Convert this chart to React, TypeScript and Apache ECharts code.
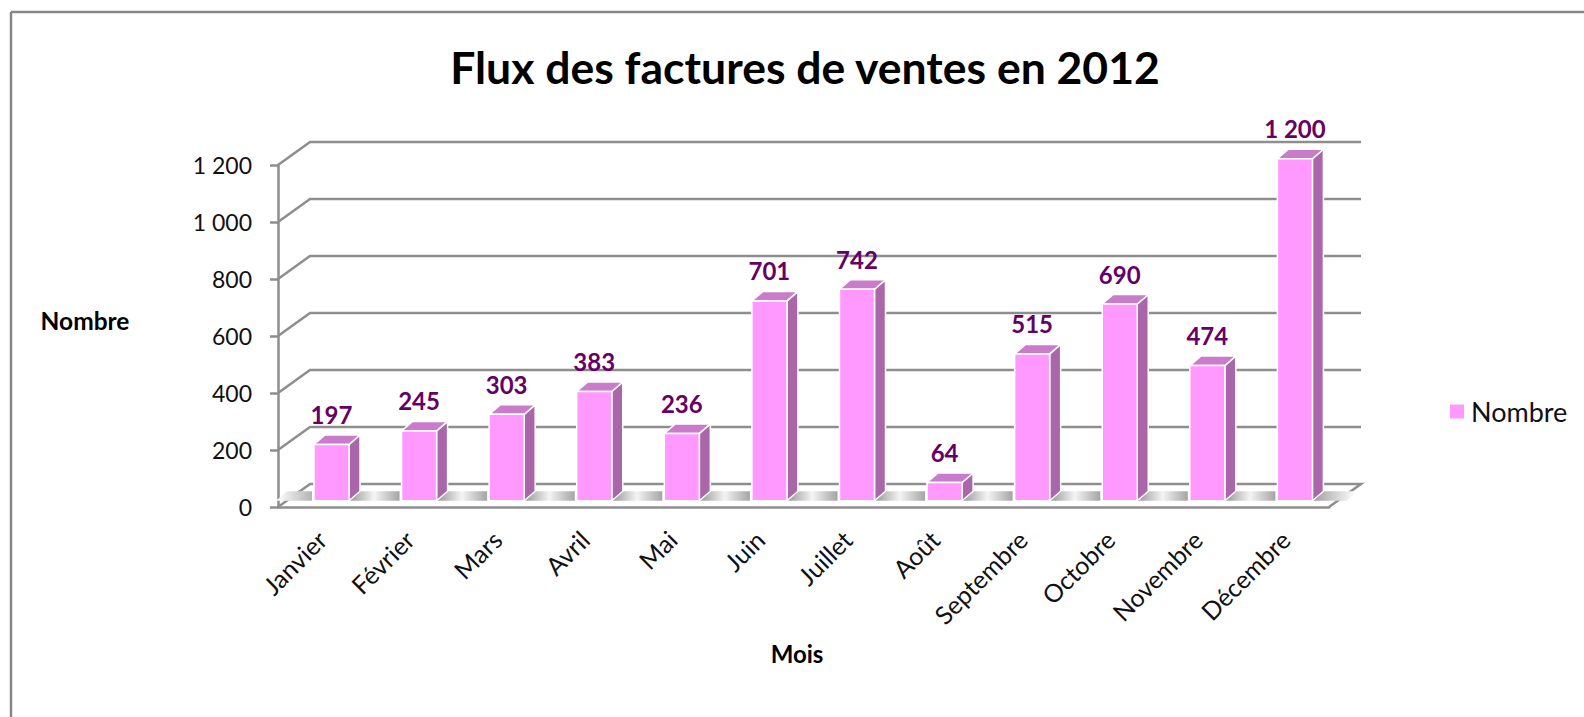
import React, { useEffect, useRef } from "react";
import * as echarts from "echarts";

const titleText = "Flux des factures de ventes en 2012";
const seriesName = "Nombre";
const yAxisTitle = "Nombre";
const xAxisTitle = "Mois";
const months = ["Janvier", "Février", "Mars", "Avril", "Mai", "Juin", "Juillet", "Août", "Septembre", "Octobre", "Novembre", "Décembre"];
const counts = [197, 245, 303, 383, 236, 701, 742, 64, 515, 690, 474, 1200];
const yTicks = [0, 200, 400, 600, 800, 1000, 1200];

const FONT = "Lato, 'Open Sans', sans-serif";
const GRID = "#8e8e8e";
const WALL_DX = 32;
const WALL_DY = -23;
const BAR_DX = 9.7;
const BAR_DY = -6.3;
const DEPTH_X = 11;
const DEPTH_Y = -9.5;

const fmt = (v: number) => (v >= 1000 ? String(v).replace(/(\d)(\d{3})$/, "$1 $2") : String(v));

const shade = (stops: [number, string][]) =>
  new echarts.graphic.LinearGradient(0, 0, 1, 0, stops.map(([offset, color]) => ({ offset, color })));

export default function App() {
  const ref = useRef<HTMLDivElement>(null);
  useEffect(() => {
    const chart = echarts.init(ref.current!, undefined, { renderer: "svg" });
    chart.setOption({
      animation: false,
      backgroundColor: "#ffffff",
      title: {
        text: titleText,
        left: 800,
        top: 39,
        textAlign: "center",
        textStyle: { fontFamily: FONT, fontSize: 44.5, fontWeight: "bold", color: "#000" },
      },
      legend: {
        data: [seriesName],
        left: 1445,
        top: 393,
        icon: "rect",
        itemWidth: 14,
        itemHeight: 14,
        itemGap: 10,
        textStyle: { fontFamily: FONT, fontSize: 27, color: "#111", padding: [0, 0, 0, 2] },
      },
      grid: { left: 278, right: 255, top: 165, bottom: 210 },
      xAxis: {
        type: "category",
        data: months,
        axisLine: { lineStyle: { color: GRID, width: 2.5 } },
        axisTick: { length: 8, lineStyle: { color: GRID, width: 2.5 } },
        axisLabel: { rotate: 45, margin: 28, interval: 0, fontFamily: FONT, fontSize: 25, color: "#111" },
      },
      yAxis: {
        type: "value",
        min: 0,
        max: 1200,
        interval: 200,
        splitLine: { show: false },
        axisLine: { show: true, lineStyle: { color: GRID, width: 2.5 } },
        axisTick: { show: true, length: 8, lineStyle: { color: GRID, width: 2.5 } },
        axisLabel: { margin: 26, fontFamily: FONT, fontSize: 23, color: "#111", formatter: (v: number) => fmt(v) },
      },
      graphic: [
        { type: "line", shape: { x1: 11, y1: 12, x2: 1584, y2: 12 }, style: { stroke: "#868686", lineWidth: 2.5 } },
        { type: "line", shape: { x1: 11, y1: 12, x2: 11, y2: 717 }, style: { stroke: "#868686", lineWidth: 2.5 } },
        { type: "text", x: 85, y: 320, style: { text: yAxisTitle, fontFamily: FONT, fontSize: 24.5, fontWeight: "bold", fill: "#000", textAlign: "center", textVerticalAlign: "middle" } },
        { type: "text", x: 797, y: 653, style: { text: xAxisTitle, fontFamily: FONT, fontSize: 24, fontWeight: "bold", fill: "#000", textAlign: "center", textVerticalAlign: "middle" } },
      ],
      series: [
        {
          type: "custom",
          silent: true,
          clip: false,
          z: 1,
          data: yTicks.map((v) => [0, v]),
          encode: { x: 0, y: 1 },
          renderItem: (params: any, api: any) => {
            const value = api.value(1);
            const y = api.coord([0, value])[1];
            const x0 = params.coordSys.x;
            const x1 = x0 + params.coordSys.width;
            const points: number[][] = [
              [x0, y],
              [x0 + WALL_DX, y + WALL_DY],
              [x1 + WALL_DX, y + WALL_DY],
            ];
            if (value === 0) points.push([x1, y]);
            return {
              type: "polyline",
              shape: { points },
              style: { stroke: GRID, lineWidth: 2.5, fill: "none" },
            };
          },
        },
        {
          type: "custom",
          name: seriesName,
          clip: false,
          z: 2,
          itemStyle: { color: "#FF99FF" },
          data: months.map((m, i) => [i, counts[i]]),
          encode: { x: 0, y: 1 },
          renderItem: (params: any, api: any) => {
            const i = api.value(0);
            const v = api.value(1);
            const band = api.size([1, 0])[0];
            const w = band * 0.4;
            const c = api.coord([i, v]);
            const base = api.coord([i, 0])[1] + BAR_DY;
            const top = c[1] + BAR_DY;
            const L = c[0] + BAR_DX - w / 2;
            const R = L + w;
            const edge = { stroke: "#ffffff", lineWidth: 1.5 };
            const children: any[] = [];
            const floorTop = base + DEPTH_Y;
            const nextL = L + band;
            const last = i === months.length - 1;
            if (i === 0) {
              children.push({
                type: "polygon",
                shape: { points: [[L - 27, floorTop], [L - 2, floorTop], [L - 2, base], [L - 38, base]] },
                style: { fill: shade([[0, "#ffffff"], [1, "#b4b4b4"]]) },
              });
            }
            children.push({
              type: "polygon",
              shape: {
                points: last
                  ? [[R, base], [R + DEPTH_X, floorTop], [R + 45, floorTop], [R + 34, base]]
                  : [[R, base], [R + DEPTH_X, floorTop], [nextL - 2, floorTop], [nextL - 2, base]],
              },
              style: {
                fill: last
                  ? shade([[0, "#9c9c9c"], [0.85, "#f4f4f4"], [1, "#ffffff"]])
                  : shade([[0.1, "#a8a8a8"], [0.5, "#f4f4f4"], [1, "#a4a4a4"]]),
              },
            });
            children.push({
              type: "polygon",
              shape: { points: [[R, top], [R + DEPTH_X, top + DEPTH_Y], [R + DEPTH_X, base + DEPTH_Y], [R, base]] },
              style: { fill: "#A966A9", ...edge },
            });
            children.push({
              type: "polygon",
              shape: { points: [[L, top], [L + DEPTH_X, top + DEPTH_Y], [R + DEPTH_X, top + DEPTH_Y], [R, top]] },
              style: { fill: "#C97CC9", ...edge },
            });
            children.push({
              type: "rect",
              shape: { x: L, y: top, width: w, height: base - top },
              style: { fill: "#FF99FF", ...edge },
            });
            children.push({
              type: "text",
              x: (L + R) / 2,
              y: top - 30,
              style: {
                text: fmt(v),
                fontFamily: FONT,
                fontSize: 24,
                fontWeight: "bold",
                fill: "#660066",
                textAlign: "center",
                textVerticalAlign: "middle",
              },
            });
            return { type: "group", children };
          },
        },
      ],
    });
    return () => chart.dispose();
  }, []);
  return <div ref={ref} style={{ position: "absolute", left: 0, top: 0, width: 1584, height: 717 }} />;
}
